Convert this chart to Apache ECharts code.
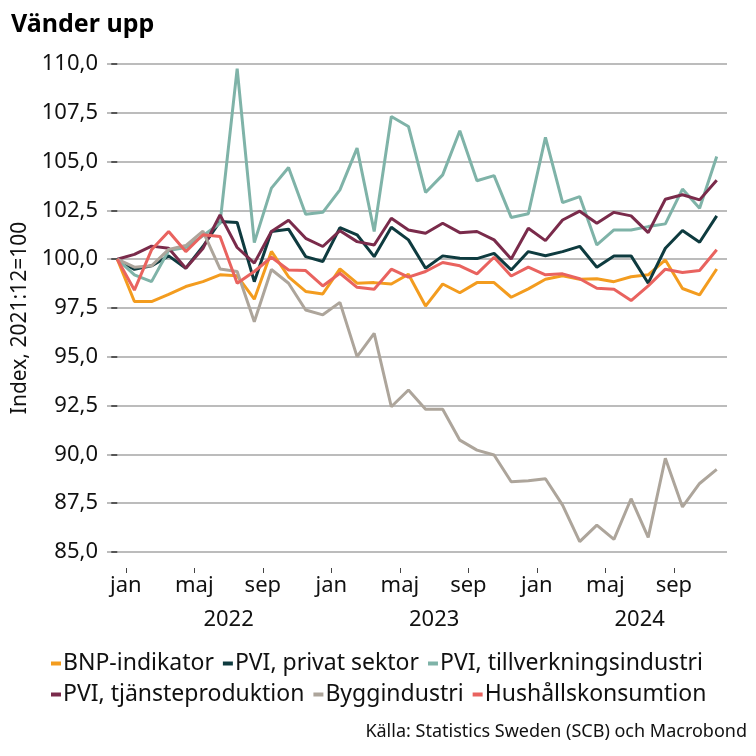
<!DOCTYPE html>
<html>
<head>
<meta charset="utf-8">
<script src="https://cdn.jsdelivr.net/npm/echarts@6/dist/echarts.min.js"></script>
<style>
html,body{margin:0;padding:0;background:#fff;}
#chart{width:756px;height:756px;}
</style>
</head>
<body>
<div id="chart"></div>
<script>
// Months: Dec 2021 .. Nov 2024 (index 2021:12 = 100)
const months = ['2021-12',
 '2022-01','2022-02','2022-03','2022-04','2022-05','2022-06','2022-07','2022-08','2022-09','2022-10','2022-11','2022-12',
 '2023-01','2023-02','2023-03','2023-04','2023-05','2023-06','2023-07','2023-08','2023-09','2023-10','2023-11','2023-12',
 '2024-01','2024-02','2024-03','2024-04','2024-05','2024-06','2024-07','2024-08','2024-09','2024-10','2024-11'];
const monthNames = ['jan','feb','mar','apr','maj','jun','jul','aug','sep','okt','nov','dec'];
const labelledMonths = ['jan','maj','sep'];
const years = ['2022','2023','2024'];
const yTicks = {min: 85, max: 110, step: 2.5};

const bnp = [100, 97.83, 97.83, 98.2, 98.6, 98.85, 99.2, 99.15, 97.95, 100.4, 99.1, 98.35, 98.22,
 99.5, 98.77, 98.8, 98.73, 99.23, 97.6, 98.73, 98.28, 98.8, 98.8, 98.05, 98.48,
 98.97, 99.15, 98.97, 99.0, 98.85, 99.1, 99.2, 99.96, 98.5, 98.17, 99.5];
const pviPrivat = [100, 99.48, 99.66, 100.17, 99.54, 100.65, 101.93, 101.88, 98.85, 101.42, 101.54, 100.13, 99.88,
 101.62, 101.25, 100.13, 101.64, 100.99, 99.54, 100.17, 100.05, 100.03, 100.3, 99.45, 100.39,
 100.18, 100.39, 100.66, 99.59, 100.17, 100.17, 98.77, 100.56, 101.47, 100.87, 102.22];
const pviTillv = [100, 99.2, 98.85, 100.45, 100.6, 101.2, 101.84, 109.76, 100.85, 103.64, 104.7, 102.3, 102.4,
 103.55, 105.69, 101.42, 107.31, 106.8, 103.42, 104.32, 106.58, 104.02, 104.28, 102.14, 102.33,
 106.24, 102.9, 103.21, 100.73, 101.5, 101.5, 101.67, 101.81, 103.59, 102.61, 105.26];
const pviTjanst = [100, 100.25, 100.67, 100.56, 99.54, 100.55, 102.27, 100.6, 99.8, 101.42, 102.0, 101.07, 100.65,
 101.46, 100.9, 100.73, 102.1, 101.5, 101.33, 101.84, 101.36, 101.42, 100.99, 100.01, 101.59,
 100.95, 102.01, 102.46, 101.84, 102.4, 102.22, 101.36, 103.07, 103.3, 103.04, 104.05];
const bygg = [100, 99.59, 99.66, 100.5, 100.7, 101.44, 99.5, 99.37, 96.8, 99.47, 98.77, 97.4, 97.15,
 97.79, 95.01, 96.2, 92.44, 93.3, 92.31, 92.31, 90.73, 90.22, 89.97, 88.6, 88.65,
 88.75, 87.4, 85.53, 86.38, 85.65, 87.73, 85.75, 89.8, 87.31, 88.51, 89.23];
const hushall = [100, 98.42, 100.48, 101.42, 100.39, 101.25, 101.16, 98.77, 99.37, 100.1, 99.45, 99.42, 98.63,
 99.28, 98.56, 98.46, 99.49, 99.08, 99.37, 99.83, 99.66, 99.25, 100.1, 99.14, 99.59,
 99.2, 99.25, 99.0, 98.51, 98.46, 97.88, 98.63, 99.49, 99.32, 99.42, 100.48];

const seriesDefs = [
  {name: 'BNP-indikator', values: bnp, color: '#F39C1F'},
  {name: 'PVI, privat sektor', values: pviPrivat, color: '#0E3B3F'},
  {name: 'PVI, tillverkningsindustri', values: pviTillv, color: '#7FB3A8'},
  {name: 'PVI, tjänsteproduktion', values: pviTjanst, color: '#7A2B4B'},
  {name: 'Byggindustri', values: bygg, color: '#ADA59B'},
  {name: 'Hushållskonsumtion', values: hushall, color: '#E9635F'}
];

// month boundaries (start of month) are at index - 0.5; observations at index
const tickVals = [], tickText = {};
months.forEach((m, i) => {
  const mn = monthNames[parseInt(m.slice(5), 10) - 1];
  if (labelledMonths.includes(mn)) { const v = i - 0.5; tickVals.push(v); tickText[v] = mn; }
});
const yearVals = [], yearText = {};
years.forEach(y => {
  const i = months.indexOf(y + '-01');
  const v = i - 0.5 + 6; yearVals.push(v); yearText[v] = y;
});

const FONT = 'Noto Sans';
const chart = echarts.init(document.getElementById('chart'), null, {renderer: 'canvas'});
chart.setOption({
  animation: false,
  textStyle: {fontFamily: FONT},
  title: [
    {text: 'Vänder upp', left: 6, top: 7, textStyle: {fontFamily: FONT, fontSize: 25, fontWeight: 'bold', color: '#000'}},
    {text: 'Källa: Statistics Sweden (SCB) och Macrobond', right: 4, top: 718, textStyle: {fontFamily: FONT, fontSize: 18, fontWeight: 'normal', color: '#111'}}
  ],
  legend: [
    {data: seriesDefs.slice(0, 3).map(s => s.name), left: 46, top: 647, itemWidth: 10, itemHeight: 4, itemGap: 9, icon: 'rect',
     textStyle: {fontFamily: FONT, fontSize: 23, color: '#111', padding: [0, 0, 0, -3]}},
    {data: seriesDefs.slice(3).map(s => s.name), left: 46, top: 678, itemWidth: 10, itemHeight: 4, itemGap: 9, icon: 'rect',
     textStyle: {fontFamily: FONT, fontSize: 23, color: '#111', padding: [0, 0, 0, -3]}}
  ],
  grid: {left: 107, right: 29, top: 64, bottom: 204},
  xAxis: [
    {type: 'value', min: -0.6, max: 35.6, position: 'bottom', offset: 16,
     axisLine: {show: false}, splitLine: {show: false},
     axisTick: {show: true, length: 5, customValues: tickVals, lineStyle: {color: '#444', width: 1}},
     axisLabel: {customValues: tickVals, formatter: v => tickText[v] || '', fontSize: 22, color: '#111', margin: 7, fontFamily: FONT}},
    {type: 'value', min: -0.6, max: 35.6, position: 'bottom', offset: 49,
     axisLine: {show: false}, splitLine: {show: false}, axisTick: {show: false},
     axisLabel: {customValues: yearVals, formatter: v => yearText[v] || '', fontSize: 22, color: '#111', margin: 8, fontFamily: FONT}}
  ],
  yAxis: {
    type: 'value', min: yTicks.min, max: yTicks.max, interval: yTicks.step,
    name: 'Index, 2021:12=100', nameLocation: 'middle', nameGap: 75, nameRotate: 90,
    nameTextStyle: {fontFamily: FONT, fontSize: 21, color: '#111', padding: [0, 20, 0, 0]},
    axisLine: {show: false},
    axisTick: {show: true, length: 6, lineStyle: {color: '#333', width: 1.5}},
    axisLabel: {formatter: v => v.toFixed(1).replace('.', ','), fontSize: 22, color: '#111', margin: 9, fontFamily: FONT},
    splitLine: {show: true, lineStyle: {color: '#a6a6a6', width: 1.5}}
  },
  series: seriesDefs.map(s => ({
    name: s.name, type: 'line', data: s.values.map((v, i) => [i, v]),
    symbol: 'none', smooth: false, color: s.color,
    lineStyle: {color: s.color, width: 3}
  }))
});
</script>
</body>
</html>
